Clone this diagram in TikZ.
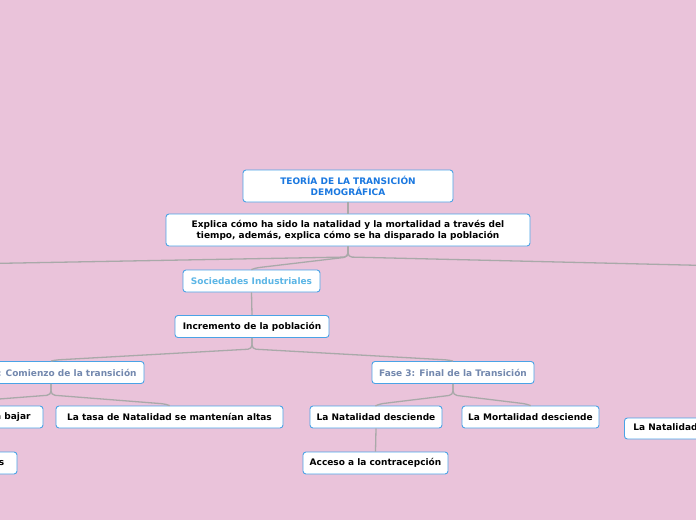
\documentclass[tikz,border=0pt]{standalone}
\usepackage{fontspec}
\setmainfont{DejaVu Sans}
\definecolor{bg}{HTML}{EAC3DA}
\definecolor{boxblue}{HTML}{4AA3E6}
\definecolor{linegray}{HTML}{A9A9A9}
\definecolor{titleblue}{HTML}{1A78E0}
\definecolor{socblue}{HTML}{5CB6E6}
\definecolor{fasegray}{HTML}{7388AE}
\tikzset{
  box/.style={draw=boxblue, fill=white, rounded corners=3pt, line width=0.9pt,
    font=\fontsize{9}{11}\selectfont\bfseries, align=center, inner sep=0pt,
    minimum height=22pt, text=black},
  conn/.style={draw=linegray, line width=1.3pt, rounded corners=4pt},
}
\begin{document}
\begin{tikzpicture}[x=1pt,y=-1pt]
\fill[bg] (0,0) rectangle (696,520);
\useasboundingbox (0,0) rectangle (696,520);
\clip (0,0) rectangle (696,520);
% nodes
\node[box, minimum width=210pt, minimum height=32pt, text=titleblue] (title) at (348,186) {TEORÍA DE LA TRANSICIÓN\\DEMOGRÁFICA};
\node[box, minimum width=364pt, minimum height=32pt] (exp) at (348,230) {Explica cómo ha sido la natalidad y la mortalidad a través del\\tiempo, además, explica cómo se ha disparado la población};
\node[box, minimum width=137pt, text=socblue] (soc) at (251.5,281) {Sociedades Industriales};
\node[box, minimum width=154pt] (inc) at (252,326.5) {Incremento de la población};
\node[box, minimum width=186pt, text=fasegray] (f2) at (51,372.5) {Fase 2: Comienzo de la transición};
\node[box, minimum width=162pt, text=fasegray] (f3) at (453,372.5) {Fase 3: Final de la Transición};
\node[box, minimum width=225pt] (mort) at (-69.5,417) {La tasa de Mortalidad comienza a bajar};
\node[box, minimum width=227pt] (nat) at (169.5,417) {La tasa de Natalidad se mantenían altas};
\node[box, minimum width=173pt] (mej) at (-69.5,463) {Mejoras sanitarias y vacunas};
\node[box, minimum width=132pt] (natd) at (376,417) {La Natalidad desciende};
\node[box, minimum width=137pt] (mortd) at (530.5,417) {La Mortalidad desciende};
\node[box, minimum width=145pt] (acc) at (375.5,463) {Acceso a la contracepción};
\node[box, minimum height=21pt, anchor=west, inner xsep=9pt] (natr) at (624,428.5) {La Natalidad y la Mortalidad altas};
\coordinate (leftend) at (-10,263.5);
\coordinate (rightend) at (706,265.5);
% connectors
\draw[conn] (title.south) -- (exp.north);
\draw[conn] (exp.south) -- (348,257) -- (leftend);
\draw[conn] (exp.south) -- (348,257) -- (rightend);
\draw[conn] (exp.south) -- (348,257) -- (255,268) -- (soc.north);
\draw[conn] (soc.south) -- (inc.north);
\draw[conn] (inc.south) -- (252,349) -- (55,360) -- (f2.north);
\draw[conn] (inc.south) -- (252,349) -- (449,360) -- (f3.north);
\draw[conn] (f2.south) -- (51,395) -- (-66,404) -- (mort.north);
\draw[conn] (f2.south) -- (51,395) -- (166,404) -- (nat.north);
\draw[conn] (mort.south) -- (mej.north);
\draw[conn] (f3.south) -- (453,395) -- (379,404) -- (natd.north);
\draw[conn] (f3.south) -- (453,395) -- (527,404) -- (mortd.north);
\draw[conn] (natd.south) -- (acc.north);
\end{tikzpicture}
\end{document}
